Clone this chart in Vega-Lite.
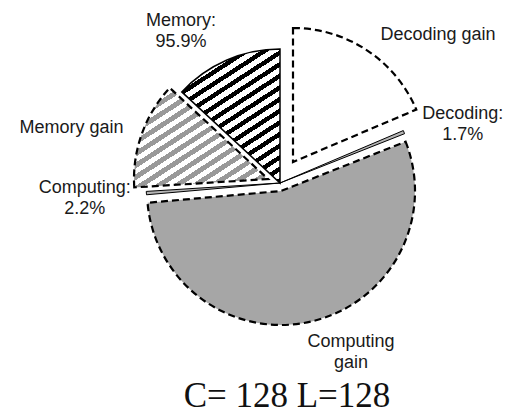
{
  "$schema": "https://vega.github.io/schema/vega-lite/v6.json",
  "autosize": "none",
  "width": 268,
  "height": 268,
  "padding": {"left": 146, "top": 49, "right": 97, "bottom": 97},
  "background": "white",
  "config": {"view": {"stroke": null}},
  "title": {"text": "C= 128 L=128", "orient": "bottom", "font": "Liberation Serif", "fontSize": 35, "fontWeight": "normal", "color": "#111111", "baseline": "alphabetic", "offset": 35, "dx": 7},
  "data": {"values": [
    {"part": "Decoding gain", "value": 18.6, "label": "Decoding gain"},
    {"part": "Decoding", "value": 0.4, "label": "Decoding:\n1.7%"},
    {"part": "Computing gain", "value": 54.6, "label": "Computing\ngain"},
    {"part": "Computing", "value": 0.4, "label": "Computing:\n2.2%"},
    {"part": "Memory gain", "value": 12.9, "label": "Memory gain"},
    {"part": "Memory", "value": 13.1, "label": "Memory:\n95.9%"}
  ]},
  "transform": [{"stack": "value", "groupby": [], "as": ["t0", "t1"]}],
  "layer": [
    {
      "transform": [{"filter": "datum.part === 'Computing gain'"}],
      "mark": {"type": "arc", "radius": 134, "fill": "#a6a6a6", "stroke": "#000000", "strokeWidth": 2.2, "strokeDash": [7, 4], "xOffset": 1, "yOffset": 8},
      "encoding": {"theta": {"field": "t0", "type": "quantitative", "scale": {"domain": [0, 100]}}, "theta2": {"field": "t1"}}
    },
    {
      "transform": [{"filter": "datum.part === 'Decoding gain'"}],
      "mark": {"type": "arc", "radius": 134, "fill": "#ffffff", "stroke": "#000000", "strokeWidth": 2.2, "strokeDash": [7, 4], "xOffset": 13, "yOffset": -21},
      "encoding": {"theta": {"field": "t0", "type": "quantitative", "scale": {"domain": [0, 100]}}, "theta2": {"field": "t1"}}
    },
    {
      "transform": [{"filter": "datum.part === 'Memory gain'"}],
      "mark": {"type": "arc", "radius": 134, "stroke": "#000000", "strokeWidth": 2.2, "strokeDash": [7, 4], "xOffset": -12, "yOffset": -4,
        "fill": {"gradient": "linear", "x1": 0, "y1": 0, "x2": 0.929, "y2": 1.062, "stops": [
          {"offset": 0, "color": "#ffffff"}, {"offset": 0.03125, "color": "#ffffff"}, {"offset": 0.03125, "color": "#999999"}, {"offset": 0.0625, "color": "#999999"},
          {"offset": 0.0625, "color": "#ffffff"}, {"offset": 0.09375, "color": "#ffffff"}, {"offset": 0.09375, "color": "#999999"}, {"offset": 0.125, "color": "#999999"},
          {"offset": 0.125, "color": "#ffffff"}, {"offset": 0.15625, "color": "#ffffff"}, {"offset": 0.15625, "color": "#999999"}, {"offset": 0.1875, "color": "#999999"},
          {"offset": 0.1875, "color": "#ffffff"}, {"offset": 0.21875, "color": "#ffffff"}, {"offset": 0.21875, "color": "#999999"}, {"offset": 0.25, "color": "#999999"},
          {"offset": 0.25, "color": "#ffffff"}, {"offset": 0.28125, "color": "#ffffff"}, {"offset": 0.28125, "color": "#999999"}, {"offset": 0.3125, "color": "#999999"},
          {"offset": 0.3125, "color": "#ffffff"}, {"offset": 0.34375, "color": "#ffffff"}, {"offset": 0.34375, "color": "#999999"}, {"offset": 0.375, "color": "#999999"},
          {"offset": 0.375, "color": "#ffffff"}, {"offset": 0.40625, "color": "#ffffff"}, {"offset": 0.40625, "color": "#999999"}, {"offset": 0.4375, "color": "#999999"},
          {"offset": 0.4375, "color": "#ffffff"}, {"offset": 0.46875, "color": "#ffffff"}, {"offset": 0.46875, "color": "#999999"}, {"offset": 0.5, "color": "#999999"},
          {"offset": 0.5, "color": "#ffffff"}, {"offset": 0.53125, "color": "#ffffff"}, {"offset": 0.53125, "color": "#999999"}, {"offset": 0.5625, "color": "#999999"},
          {"offset": 0.5625, "color": "#ffffff"}, {"offset": 0.59375, "color": "#ffffff"}, {"offset": 0.59375, "color": "#999999"}, {"offset": 0.625, "color": "#999999"},
          {"offset": 0.625, "color": "#ffffff"}, {"offset": 0.65625, "color": "#ffffff"}, {"offset": 0.65625, "color": "#999999"}, {"offset": 0.6875, "color": "#999999"},
          {"offset": 0.6875, "color": "#ffffff"}, {"offset": 0.71875, "color": "#ffffff"}, {"offset": 0.71875, "color": "#999999"}, {"offset": 0.75, "color": "#999999"},
          {"offset": 0.75, "color": "#ffffff"}, {"offset": 0.78125, "color": "#ffffff"}, {"offset": 0.78125, "color": "#999999"}, {"offset": 0.8125, "color": "#999999"},
          {"offset": 0.8125, "color": "#ffffff"}, {"offset": 0.84375, "color": "#ffffff"}, {"offset": 0.84375, "color": "#999999"}, {"offset": 0.875, "color": "#999999"},
          {"offset": 0.875, "color": "#ffffff"}, {"offset": 0.90625, "color": "#ffffff"}, {"offset": 0.90625, "color": "#999999"}, {"offset": 0.9375, "color": "#999999"},
          {"offset": 0.9375, "color": "#ffffff"}, {"offset": 0.96875, "color": "#ffffff"}, {"offset": 0.96875, "color": "#999999"}, {"offset": 1, "color": "#999999"}
        ]}},
      "encoding": {"theta": {"field": "t0", "type": "quantitative", "scale": {"domain": [0, 100]}}, "theta2": {"field": "t1"}}
    },
    {
      "transform": [{"filter": "datum.part === 'Memory'"}],
      "mark": {"type": "arc", "radius": 134, "stroke": "#000000", "strokeWidth": 1.5,
        "fill": {"gradient": "linear", "x1": 0, "y1": 0, "x2": 0.572, "y2": 1.204, "stops": [
          {"offset": 0, "color": "#ffffff"}, {"offset": 0.0324, "color": "#ffffff"}, {"offset": 0.0324, "color": "#000000"}, {"offset": 0.0588, "color": "#000000"},
          {"offset": 0.0588, "color": "#ffffff"}, {"offset": 0.0912, "color": "#ffffff"}, {"offset": 0.0912, "color": "#000000"}, {"offset": 0.1176, "color": "#000000"},
          {"offset": 0.1176, "color": "#ffffff"}, {"offset": 0.15, "color": "#ffffff"}, {"offset": 0.15, "color": "#000000"}, {"offset": 0.1765, "color": "#000000"},
          {"offset": 0.1765, "color": "#ffffff"}, {"offset": 0.2088, "color": "#ffffff"}, {"offset": 0.2088, "color": "#000000"}, {"offset": 0.2353, "color": "#000000"},
          {"offset": 0.2353, "color": "#ffffff"}, {"offset": 0.2676, "color": "#ffffff"}, {"offset": 0.2676, "color": "#000000"}, {"offset": 0.2941, "color": "#000000"},
          {"offset": 0.2941, "color": "#ffffff"}, {"offset": 0.3265, "color": "#ffffff"}, {"offset": 0.3265, "color": "#000000"}, {"offset": 0.3529, "color": "#000000"},
          {"offset": 0.3529, "color": "#ffffff"}, {"offset": 0.3853, "color": "#ffffff"}, {"offset": 0.3853, "color": "#000000"}, {"offset": 0.4118, "color": "#000000"},
          {"offset": 0.4118, "color": "#ffffff"}, {"offset": 0.4441, "color": "#ffffff"}, {"offset": 0.4441, "color": "#000000"}, {"offset": 0.4706, "color": "#000000"},
          {"offset": 0.4706, "color": "#ffffff"}, {"offset": 0.5029, "color": "#ffffff"}, {"offset": 0.5029, "color": "#000000"}, {"offset": 0.5294, "color": "#000000"},
          {"offset": 0.5294, "color": "#ffffff"}, {"offset": 0.5618, "color": "#ffffff"}, {"offset": 0.5618, "color": "#000000"}, {"offset": 0.5882, "color": "#000000"},
          {"offset": 0.5882, "color": "#ffffff"}, {"offset": 0.6206, "color": "#ffffff"}, {"offset": 0.6206, "color": "#000000"}, {"offset": 0.6471, "color": "#000000"},
          {"offset": 0.6471, "color": "#ffffff"}, {"offset": 0.6794, "color": "#ffffff"}, {"offset": 0.6794, "color": "#000000"}, {"offset": 0.7059, "color": "#000000"},
          {"offset": 0.7059, "color": "#ffffff"}, {"offset": 0.7382, "color": "#ffffff"}, {"offset": 0.7382, "color": "#000000"}, {"offset": 0.7647, "color": "#000000"},
          {"offset": 0.7647, "color": "#ffffff"}, {"offset": 0.7971, "color": "#ffffff"}, {"offset": 0.7971, "color": "#000000"}, {"offset": 0.8235, "color": "#000000"},
          {"offset": 0.8235, "color": "#ffffff"}, {"offset": 0.8559, "color": "#ffffff"}, {"offset": 0.8559, "color": "#000000"}, {"offset": 0.8824, "color": "#000000"},
          {"offset": 0.8824, "color": "#ffffff"}, {"offset": 0.9147, "color": "#ffffff"}, {"offset": 0.9147, "color": "#000000"}, {"offset": 0.9412, "color": "#000000"},
          {"offset": 0.9412, "color": "#ffffff"}, {"offset": 0.9735, "color": "#ffffff"}, {"offset": 0.9735, "color": "#000000"}, {"offset": 1, "color": "#000000"}
        ]}},
      "encoding": {"theta": {"field": "t0", "type": "quantitative", "scale": {"domain": [0, 100]}}, "theta2": {"field": "t1"}}
    },
    {
      "transform": [{"filter": "datum.part === 'Computing' || datum.part === 'Decoding'"}],
      "mark": {"type": "arc", "radius": 134, "fill": "#b5b5b5", "stroke": "#000000", "strokeWidth": 1},
      "encoding": {"theta": {"field": "t0", "type": "quantitative", "scale": {"domain": [0, 100]}}, "theta2": {"field": "t1"}}
    },
    {
      "transform": [{"filter": "datum.part === 'Memory'"}],
      "mark": {"type": "text", "font": "Liberation Sans", "fontSize": 18, "color": "#1a1a1a", "align": "center", "baseline": "middle", "lineBreak": "\n", "lineHeight": 21, "dx": 30, "dy": -42},
      "encoding": {"theta": {"field": "t0", "type": "quantitative", "scale": {"domain": [0, 100]}}, "radius": {"value": 176}, "text": {"field": "label"}}
    },
    {
      "transform": [{"filter": "datum.part === 'Decoding gain'"}],
      "mark": {"type": "text", "font": "Liberation Sans", "fontSize": 18, "color": "#1a1a1a", "align": "center", "baseline": "middle", "lineBreak": "\n", "lineHeight": 21, "dx": 158, "dy": 0},
      "encoding": {"theta": {"field": "t0", "type": "quantitative", "scale": {"domain": [0, 100]}}, "radius": {"value": 148}, "text": {"field": "label"}}
    },
    {
      "transform": [{"filter": "datum.part === 'Decoding'"}],
      "mark": {"type": "text", "font": "Liberation Sans", "fontSize": 18, "color": "#1a1a1a", "align": "center", "baseline": "middle", "lineBreak": "\n", "lineHeight": 21, "dx": 6, "dy": 6},
      "encoding": {"theta": {"field": "t0", "type": "quantitative", "scale": {"domain": [0, 100]}}, "radius": {"value": 192}, "text": {"field": "label"}}
    },
    {
      "transform": [{"filter": "datum.part === 'Memory gain'"}],
      "mark": {"type": "text", "font": "Liberation Sans", "fontSize": 18, "color": "#1a1a1a", "align": "center", "baseline": "middle", "lineBreak": "\n", "lineHeight": 21, "dx": -4, "dy": -68},
      "encoding": {"theta": {"field": "t0", "type": "quantitative", "scale": {"domain": [0, 100]}}, "radius": {"value": 205}, "text": {"field": "label"}}
    },
    {
      "transform": [{"filter": "datum.part === 'Computing'"}],
      "mark": {"type": "text", "font": "Liberation Sans", "fontSize": 18, "color": "#1a1a1a", "align": "center", "baseline": "middle", "lineBreak": "\n", "lineHeight": 21, "dx": 0, "dy": -12},
      "encoding": {"theta": {"field": "t0", "type": "quantitative", "scale": {"domain": [0, 100]}}, "radius": {"value": 196}, "text": {"field": "label"}}
    },
    {
      "transform": [{"filter": "datum.part === 'Computing gain'"}],
      "mark": {"type": "text", "font": "Liberation Sans", "fontSize": 18, "color": "#1a1a1a", "align": "center", "baseline": "middle", "lineBreak": "\n", "lineHeight": 21, "dx": 71, "dy": 159},
      "encoding": {"theta": {"field": "t0", "type": "quantitative", "scale": {"domain": [0, 100]}}, "radius": {"value": 0}, "text": {"field": "label"}}
    }
  ]
}
